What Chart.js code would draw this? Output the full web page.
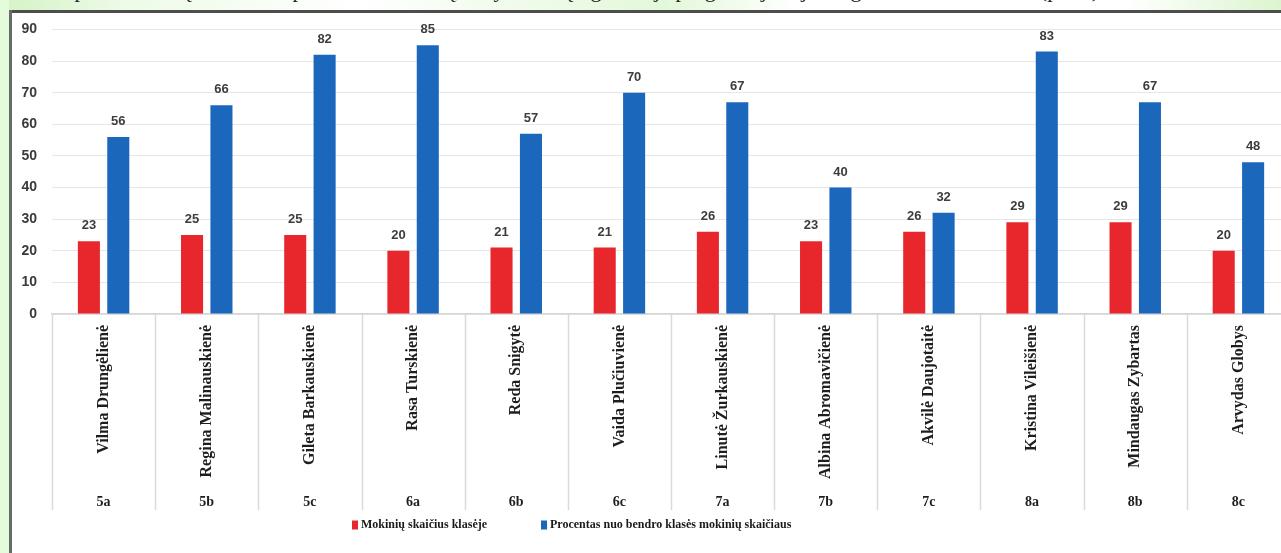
<!DOCTYPE html>
<html>
<head>
<meta charset="utf-8">
<script src="https://cdn.jsdelivr.net/npm/chart.js@4.4.1/dist/chart.umd.min.js"></script>
<style>
  html, body { margin: 0; padding: 0; width: 1281px; height: 553px; overflow: hidden; background: #fff; }
  #topstrip { position: absolute; left: 0; top: 0; width: 1281px; height: 10px; overflow: hidden;
    background: linear-gradient(90deg, #d4f3c6 0%, #eefbe8 10%, #ffffff 28%, #e3f8d9 52%, #ffffff 62%, #ffffff 88%, #dcf5cf 100%); z-index: 3; }
  #topstrip span { position: absolute; left: 58px; top: -23px; font-family: "Liberation Serif", serif; font-size: 22px; color: #222; white-space: nowrap; }
  #topline { position: absolute; left: 9px; top: 10px; width: 1272px; height: 3px; background: #4d4d4d; z-index: 3; }
  #leftstrip { position: absolute; left: 0; top: 0; width: 9px; height: 553px; background: #e4fbdc; z-index: 3; }
  #leftline { position: absolute; left: 9px; top: 10px; width: 3px; height: 543px; background: #6a6a6a; z-index: 3; }
  #wrap { position: absolute; left: 0; top: 6px; width: 1291px; height: 547px; z-index: 1; }
</style>
</head>
<body>
<div id="topstrip"><span>2 pav. Mokinių skaičius ir procentas mokinių, dalyvavusių ilgalaikėje programoje ir jos organizuotose veiklose (proc.)</span></div>
<div id="topline"></div>
<div id="leftstrip"></div>
<div id="leftline"></div>
<div id="wrap"><canvas id="c" width="1291" height="547"></canvas></div>
<script>
const teachers = ["Vilma Drungėlienė", "Regina Malinauskienė", "Gileta Barkauskienė", "Rasa Turskienė", "Reda Snigytė", "Vaida Plučiuvienė", "Linutė Žurkauskienė", "Albina Abromavičienė", "Akvilė Daujotaitė", "Kristina Vileišienė", "Mindaugas Zybartas", "Arvydas Globys"];
const classes = ["5a", "5b", "5c", "6a", "6b", "6c", "7a", "7b", "7c", "8a", "8b", "8c"];
const studentCounts = [23, 25, 25, 20, 21, 21, 26, 23, 26, 29, 29, 20];
const percentOfClass = [56, 66, 82, 85, 57, 70, 67, 40, 32, 83, 67, 48];
const seriesNames = ["Mokinių skaičius klasėje", "Procentas nuo bendro klasės mokinių skaičiaus"];
const yTicks = [0, 10, 20, 30, 40, 50, 60, 70, 80, 90];

const RED = "#e8272d";
const BLUE = "#1b67bc";

const valueLabels = {
  id: "valueLabels",
  afterDatasetsDraw(chart) {
    const ctx = chart.ctx;
    ctx.save();
    ctx.font = "bold 13px 'Liberation Sans', Arial, sans-serif";
    ctx.fillStyle = "#3d3d3d";
    ctx.textAlign = "center";
    ctx.textBaseline = "bottom";
    chart.data.datasets.forEach((ds, di) => {
      const meta = chart.getDatasetMeta(di);
      meta.data.forEach((bar, i) => {
        ctx.fillText(String(ds.data[i]), bar.x, bar.y - 9);
      });
    });
    ctx.restore();
  }
};

const dividers = {
  id: "dividers",
  afterDraw(chart) {
    const xs = chart.scales.x;
    const x2 = chart.scales.x2;
    const n = chart.data.labels.length;
    const step = (xs.right - xs.left) / n;
    const ctx = chart.ctx;
    ctx.save();
    ctx.strokeStyle = "#dadada";
    ctx.lineWidth = 1.5;
    for (let i = 0; i <= n; i++) {
      const x = Math.round(xs.getPixelForValue(Math.min(i, n - 1)) + (i === n ? step / 2 : -step / 2)) + 0.5;
      ctx.beginPath();
      ctx.moveTo(x, chart.chartArea.bottom);
      ctx.lineTo(x, x2.bottom);
      ctx.stroke();
    }
    ctx.restore();
  }
};

const customLegend = {
  id: "customLegend",
  afterDraw(chart) {
    const ctx = chart.ctx;
    ctx.save();
    ctx.font = "bold 12px 'Liberation Serif', 'Times New Roman', serif";
    ctx.textBaseline = "middle";
    ctx.textAlign = "left";
    const boxW = 6, boxH = 9, boxGap = 3, itemGap = 54;
    const items = chart.data.datasets.map(ds => ({ text: ds.label, color: ds.backgroundColor }));
    const widths = items.map(it => boxW + boxGap + ctx.measureText(it.text).width);
    let x = 352;
    const y = chart.scales.x2.bottom + 15;
    items.forEach((it, k) => {
      ctx.fillStyle = it.color;
      ctx.fillRect(x, y - boxH / 2, boxW, boxH);
      ctx.fillStyle = "#1a1a1a";
      ctx.fillText(it.text, x + boxW + boxGap, y);
      x += widths[k] + itemGap;
    });
    ctx.restore();
  }
};

new Chart(document.getElementById("c"), {
  type: "bar",
  data: {
    labels: teachers,
    datasets: [
      { label: seriesNames[0], data: studentCounts, backgroundColor: RED, categoryPercentage: 0.57, barPercentage: 0.75, xAxisID: "x" },
      { label: seriesNames[1], data: percentOfClass, backgroundColor: BLUE, categoryPercentage: 0.57, barPercentage: 0.75, xAxisID: "x" }
    ]
  },
  options: {
    responsive: false,
    animation: false,
    events: [],
    layout: { padding: { top: 0, bottom: 43, left: 0, right: 1 } },
    plugins: { legend: { display: false }, tooltip: { enabled: false } },
    scales: {
      y: {
        min: 0, max: 90,
        afterFit(s) { s.width = 52; },
        afterBuildTicks(s) { s.ticks = yTicks.map(v => ({ value: v })); },
        grid: { color: "#e6e6e6", lineWidth: 1, drawTicks: false },
        border: { display: false },
        ticks: { padding: 15, color: "#3a3a3a", font: { family: "'Liberation Sans', Arial, sans-serif", size: 14, weight: "bold" } }
      },
      x: {
        type: "category",
        position: "bottom",
        afterFit(s) { s.height = 180; },
        grid: { display: false, drawTicks: false },
        border: { display: true, color: "#d6d6d6", width: 1.5 },
        ticks: { autoSkip: false, minRotation: 90, maxRotation: 90, padding: 11, color: "#1e1e1e",
          font: { family: "'Liberation Serif', 'Times New Roman', serif", size: 16, weight: "bold" } }
      },
      x2: {
        type: "category",
        position: "bottom",
        labels: classes,
        afterFit(s) { s.height = 16; },
        grid: { display: false, drawTicks: false },
        border: { display: false },
        ticks: { autoSkip: false, maxRotation: 0, padding: 0, color: "#1e1e1e",
          font: { family: "'Liberation Serif', 'Times New Roman', serif", size: 14, weight: "bold" } }
      }
    }
  },
  plugins: [valueLabels, dividers, customLegend]
});
</script>
</body>
</html>
